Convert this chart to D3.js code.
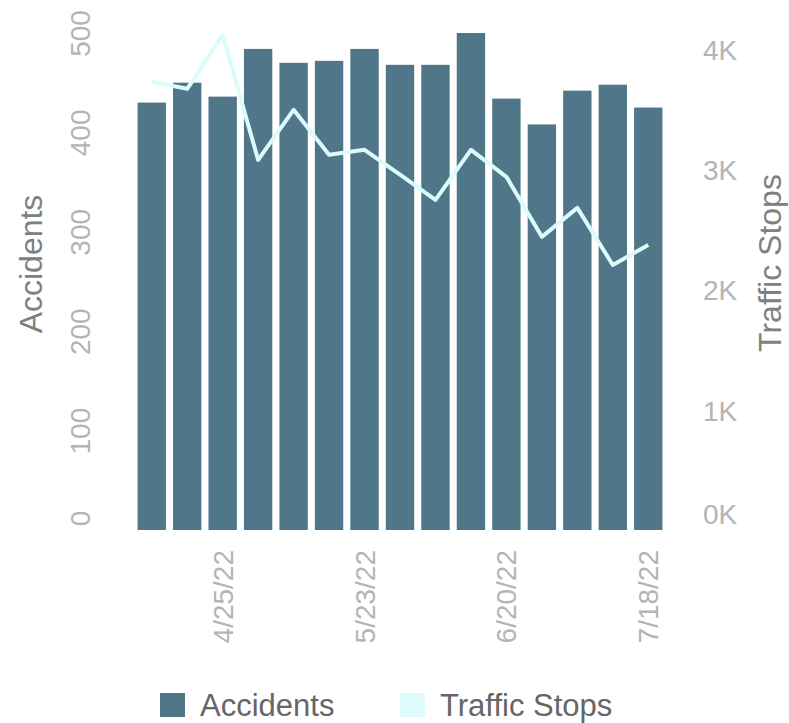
<!DOCTYPE html>
<html>
<head>
<meta charset="utf-8">
<script src="https://cdn.jsdelivr.net/npm/d3@7"></script>
<style>
  body { margin: 0; background: #fff; }
  svg { display: block; font-family: "Liberation Sans", Arial, sans-serif; }
</style>
</head>
<body>
<div id="chart"></div>
<script>
const weeks = ["4/11/22", "4/18/22", "4/25/22", "5/2/22", "5/9/22", "5/16/22", "5/23/22", "5/30/22",
  "6/6/22", "6/13/22", "6/20/22", "6/27/22", "7/4/22", "7/11/22", "7/18/22"];
const accidents = [430, 450, 436, 484, 470, 472, 484, 468, 468, 500, 434, 408, 442, 448, 425];
const trafficStops = [3733, 3675, 4125, 3083, 3500, 3125, 3167, 2960, 2750, 3167, 2942, 2442, 2683, 2208, 2375];
const xTickLabels = ["4/25/22", "5/23/22", "6/20/22", "7/18/22"];
const leftTicks = [0, 100, 200, 300, 400, 500];
const rightTicks = [0, 1000, 2000, 3000, 4000];

const width = 789;
const height = 723;
const baseY = 530;
const topY = 33;

const barColor = "#507789";
const lineColor = "#dcfbfb";

const svg = d3.select("#chart").append("svg")
  .attr("width", width)
  .attr("height", height);

const x = d3.scaleBand()
  .domain(weeks)
  .range([134, 666])
  .paddingInner(0.2)
  .paddingOuter(0.1);

const yL = d3.scaleLinear().domain([0, 500]).range([baseY, topY]);
const yR = d3.scaleLinear().domain([0, 4140]).range([baseY, topY]);

// bars
svg.append("g")
  .selectAll("rect")
  .data(weeks)
  .join("rect")
  .attr("x", (d) => x(d))
  .attr("y", (d, i) => yL(accidents[i]))
  .attr("width", x.bandwidth())
  .attr("height", (d, i) => baseY - yL(accidents[i]))
  .attr("fill", barColor);

// line
const line = d3.line()
  .x((d, i) => x(weeks[i]) + x.bandwidth() / 2)
  .y((d) => yR(d));

svg.append("path")
  .datum(trafficStops)
  .attr("d", line)
  .attr("fill", "none")
  .attr("stroke", lineColor)
  .attr("stroke-width", 4)
  .attr("stroke-linejoin", "round");

// left axis (rotated labels)
const gL = svg.append("g")
  .attr("transform", "translate(90,0)")
  .call(d3.axisLeft(yL).tickValues(leftTicks).tickSize(0));
gL.select(".domain").remove();
gL.selectAll("text")
  .attr("x", 0).attr("y", 0).attr("dy", 0)
  .attr("text-anchor", "middle")
  .attr("transform", (d) => d === 0 ? "translate(0,-12) rotate(-90)" : "rotate(-90)")
  .attr("fill", "#b4b4b4")
  .style("font-size", "28px");

// right axis
const gR = svg.append("g")
  .attr("transform", "translate(703,0)")
  .call(d3.axisRight(yR).tickValues(rightTicks).tickSize(0).tickPadding(0)
    .tickFormat((d) => d / 1000 + "K"));
gR.select(".domain").remove();
gR.selectAll("text")
  .attr("fill", "#b4b4b4")
  .attr("dy", "0.36em")
  .attr("transform", (d) => d === 0 ? "translate(0,-17)" : null)
  .style("font-size", "28px");

// bottom axis
const gX = svg.append("g")
  .attr("transform", `translate(0,${baseY})`)
  .call(d3.axisBottom(x).tickValues(weeks.filter((w) => xTickLabels.includes(w))).tickSize(0));
gX.select(".domain").remove();
gX.selectAll("text")
  .attr("x", 0).attr("y", 0).attr("dy", "0.36em")
  .attr("text-anchor", "end")
  .attr("transform", "translate(0,20) rotate(-90)")
  .attr("fill", "#b4b4b4")
  .style("font-size", "28px");

// axis titles
svg.append("text")
  .attr("transform", "translate(42,264) rotate(-90)")
  .attr("text-anchor", "middle")
  .attr("fill", "#808080")
  .style("font-size", "32px")
  .text("Accidents");

svg.append("text")
  .attr("transform", "translate(781,263) rotate(-90)")
  .attr("text-anchor", "middle")
  .attr("fill", "#808080")
  .style("font-size", "32px")
  .text("Traffic Stops");

// legend
const legend = [
  { name: "Accidents", color: barColor, x: 160, tx: 200 },
  { name: "Traffic Stops", color: lineColor, x: 400, tx: 440 }
];
const lg = svg.append("g").selectAll("g").data(legend).join("g");
lg.append("rect")
  .attr("x", (d) => d.x).attr("y", 693)
  .attr("width", 25).attr("height", 24)
  .attr("fill", (d) => d.color);
lg.append("text")
  .attr("x", (d) => d.tx).attr("y", 716)
  .attr("fill", "#666")
  .style("font-size", "31px")
  .text((d) => d.name);
</script>
</body>
</html>
